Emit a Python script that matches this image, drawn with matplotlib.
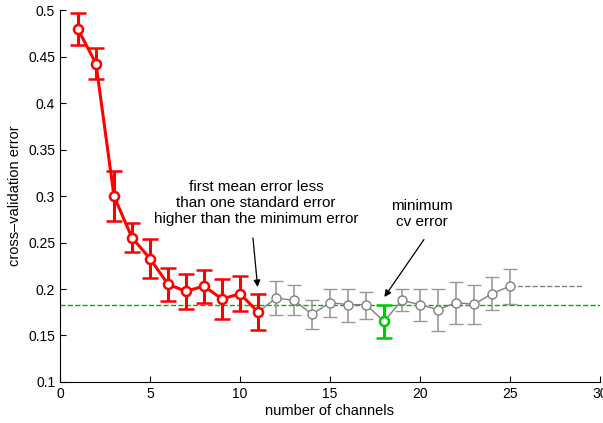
import numpy as np
import matplotlib
matplotlib.use('Agg')
import matplotlib.pyplot as plt

plt.rcParams['font.family'] = ['Liberation Sans', 'DejaVu Sans']

# number of channels and cross-validation error (mean, lower, upper)
n = np.arange(1, 26)
cv = np.array([0.4796, 0.4423, 0.300, 0.2552, 0.2327, 0.2051, 0.1975, 0.2032, 0.1892, 0.1950,
               0.1752, 0.1903, 0.1878, 0.1728, 0.1854, 0.1832, 0.1832, 0.1652, 0.1878, 0.1832,
               0.1778, 0.1854, 0.1835, 0.1950, 0.2032])
lo = np.array([0.4630, 0.4255, 0.2730, 0.2394, 0.2118, 0.1870, 0.1790, 0.1854, 0.1674, 0.1763,
               0.1555, 0.1724, 0.1717, 0.1566, 0.1699, 0.1645, 0.1680, 0.1477, 0.1760, 0.1652,
               0.1548, 0.1620, 0.1620, 0.1770, 0.1835])
hi = np.array([0.4964, 0.4595, 0.3272, 0.2713, 0.2538, 0.2230, 0.2158, 0.2201, 0.2112, 0.2137,
               0.1950, 0.2083, 0.2040, 0.1878, 0.2004, 0.2004, 0.1968, 0.1825, 0.1995, 0.2004,
               0.2004, 0.2075, 0.2040, 0.2129, 0.2212])

best = 11      # first within one standard error
imin = 18      # minimum cv error
thresh = 0.1825
tail = 0.2032

fig = plt.figure(figsize=(6.03, 4.23), dpi=100)
ax = fig.add_axes([0.0995, 0.097, 0.8955, 0.879])

err = np.vstack([cv - lo, hi - cv])

ax.plot([0, 30], [thresh, thresh], '--', color='#00b000', lw=1, zorder=1)
ax.plot([25, 29], [tail, tail], '--', color='#808080', lw=1, zorder=1)

g = n >= best
ax.errorbar(n[g], cv[g], yerr=err[:, g], color='#808080', ecolor='#999999', lw=1,
            elinewidth=1.2, capsize=5, capthick=1.2, marker='o', ms=6.5,
            mfc='white', mec='#808080', mew=1, zorder=2)

r = n <= best
ax.errorbar(n[r], cv[r], yerr=err[:, r], color='red', lw=2.2, elinewidth=2.2,
            capsize=6, capthick=2.2, marker='o', ms=6.5, mfc='white', mec='red',
            mew=1.8, zorder=3)

m = n == imin
ax.errorbar(n[m], cv[m], yerr=err[:, m], color='#00cc00', lw=2.2, elinewidth=2.2,
            capsize=6, capthick=2.2, marker='o', ms=6.5, mfc='white', mec='#00cc00',
            mew=1.8, zorder=4)

arrow = dict(arrowstyle='-|>', color='black', lw=0.9, shrinkA=0, shrinkB=0,
             mutation_scale=10)
ax.text(10.9, 0.2923, 'first mean error less\nthan one standard error\nhigher than the minimum error',
        ha='center', va='center', fontsize=11, linespacing=1.18)
ax.annotate('', xy=(10.98, 0.2021), xytext=(10.72, 0.2549), arrowprops=arrow)
ax.text(20.1, 0.2804, 'minimum\ncv error', ha='center', va='center', fontsize=11,
        linespacing=1.18)
ax.annotate('', xy=(18.02, 0.1914), xytext=(20.22, 0.2532), arrowprops=arrow)

ax.set_xlim(0, 30)
ax.set_ylim(0.1, 0.5)
ax.set_xticks(np.arange(0, 31, 5))
ax.set_yticks(np.arange(0.1, 0.501, 0.05))
ax.set_yticklabels(['0.1', '0.15', '0.2', '0.25', '0.3', '0.35', '0.4', '0.45', '0.5'])
ax.tick_params(direction='in', labelsize=10, length=4)
ax.spines['top'].set_visible(False)
ax.spines['right'].set_visible(False)
ax.set_xlabel('number of channels', fontsize=10.5, labelpad=2)
ax.set_ylabel('cross\u2013validation error', fontsize=10.5, labelpad=4)

fig.savefig('out.png', dpi=100)
